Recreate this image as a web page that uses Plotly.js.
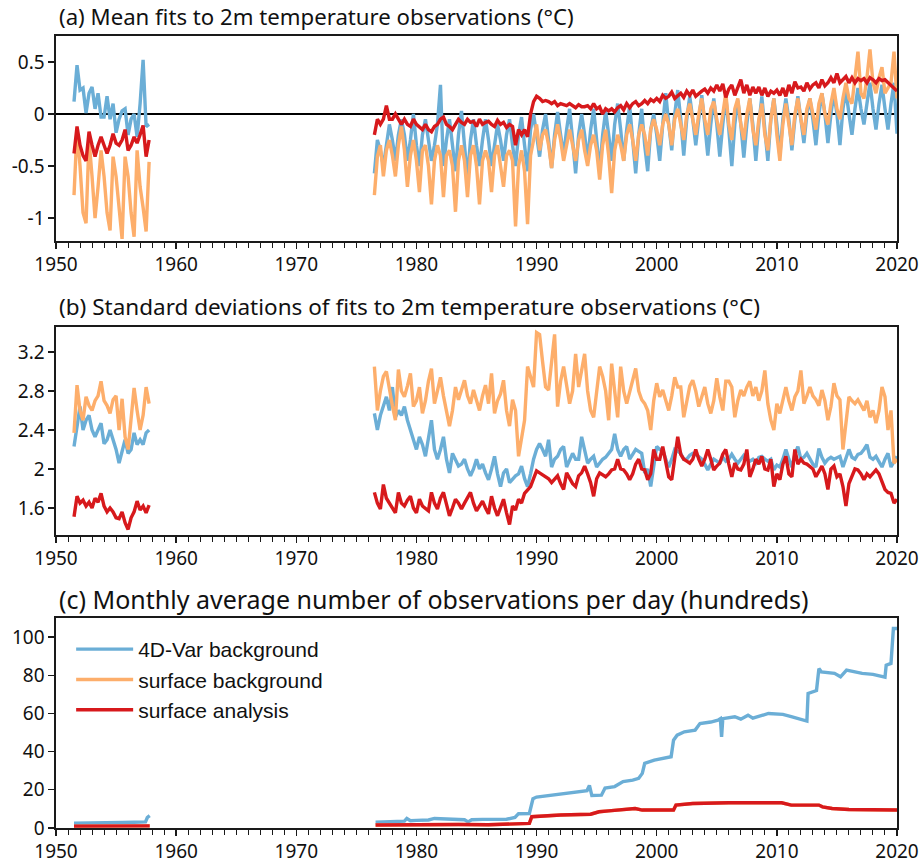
<!DOCTYPE html>
<html>
<head>
<meta charset="utf-8">
<script src="https://cdn.plot.ly/plotly-3.0.1.min.js"></script>
<style>
  html, body { margin: 0; padding: 0; background: #fff; }
  #chart { width: 919px; height: 863px; }
</style>
</head>
<body>
<div id="chart"></div>
<script>
// Fits of 2m temperature observations, sampled every quarter year.
// Two observing periods: 1951.5-1957.75 and 1976.5-2020.0, step 0.25 yr.
const EARLY_START = 1951.5;
const LATE_START = 1976.5;
const STEP = 0.25;

const seriesNames = ['4D-Var background', 'surface background', 'surface analysis'];
const seriesColors = ['#6baed6', '#fdae6b', '#d7191c'];

// ---- (a) mean fits (°C) ----
const meanFdvarEarly = [
  0.12, 0.47,
  0.23, 0.25, 0.01, 0.2,
  0.26, 0.05, 0.2, -0.03,
  -0.03, 0.17, -0.05, 0.1,
  -0.18, -0.05, 0.03, 0.05,
  -0.2, -0.05, 0.0, -0.22,
  0.1, 0.52, -0.12, -0.1
];
const meanSfcBgEarly = [
  -0.78, -0.15,
  -0.5, -0.95, -1.05, -0.25,
  -0.6, -1.0, -0.7, -0.35,
  -0.6, -0.95, -1.12, -0.41,
  -0.6, -0.95, -1.2, -0.41,
  -0.6, -0.95, -1.18, -0.35,
  -0.7, -0.9, -1.13, -0.46
];
const meanSfcAnEarly = [
  -0.38, -0.12,
  -0.3, -0.4, -0.45, -0.17,
  -0.3, -0.41, -0.3, -0.22,
  -0.3, -0.38, -0.3, -0.19,
  -0.28, -0.3, -0.25, -0.15,
  -0.35, -0.3, -0.22, -0.28,
  -0.2, -0.11, -0.41, -0.25
];
const meanFdvarLate = [
  -0.57, -0.25,
  -0.35, -0.5, -0.3, -0.1,
  -0.25, -0.45, -0.2, -0.05,
  -0.2, -0.45, -0.25, 0.0,
  -0.3, -0.5, -0.2, -0.05,
  -0.25, -0.45, -0.3, -0.1,
  0.28, -0.5, -0.25, -0.05,
  -0.3, -0.55, -0.2, 0.03,
  -0.3, -0.62, -0.25, -0.05,
  -0.3, -0.5, -0.25, -0.05,
  -0.25, -0.5, -0.3, -0.1,
  -0.25, -0.45, -0.2, -0.05,
  -0.3, -0.5, -0.2, -0.03,
  -0.3, -0.55, -0.15, 0.0,
  -0.2, -0.41, -0.15, 0.0,
  -0.25, -0.52, -0.2, 0.02,
  -0.2, -0.4, -0.15, 0.05,
  -0.25, -0.57, -0.2, 0.0,
  -0.2, -0.45, -0.15, 0.05,
  -0.25, -0.55, -0.2, 0.03,
  -0.2, -0.45, -0.1, 0.1,
  -0.15, -0.45, -0.15, 0.08,
  -0.25, -0.57, -0.2, 0.05,
  -0.3, -0.55, -0.15, 0.0,
  -0.2, -0.45, -0.1, 0.2,
  -0.1, -0.35, 0.0, 0.23,
  -0.05, -0.4, -0.05, 0.17,
  -0.05, -0.3, -0.05, 0.18,
  -0.1, -0.4, -0.1, 0.15,
  -0.1, -0.41, -0.1, 0.17,
  -0.15, -0.5, -0.1, 0.13,
  -0.1, -0.42, -0.1, 0.15,
  -0.1, -0.45, -0.1, 0.17,
  -0.15, -0.45, -0.05, 0.15,
  -0.1, -0.4, -0.05, 0.15,
  -0.05, -0.35, -0.05, 0.17,
  -0.05, -0.28, 0.0, 0.15,
  -0.05, -0.3, 0.0, 0.2,
  0.0, -0.28, 0.0, 0.2,
  0.0, -0.3, 0.05, 0.23,
  0.0, -0.2, 0.05, 0.25,
  0.05, -0.1, 0.1, 0.3,
  0.05, -0.15, 0.1, 0.28,
  0.05, -0.15, 0.1, 0.3,
  -0.19
];
const meanSfcBgLate = [
  -0.78, -0.41,
  -0.3, -0.6, -0.35, -0.25,
  -0.4, -0.6, -0.3, -0.12,
  -0.35, -0.7, -0.4, -0.25,
  -0.45, -0.75, -0.35, -0.3,
  -0.5, -0.87, -0.45, -0.3,
  -0.4, -0.8, -0.4, -0.35,
  -0.5, -0.94, -0.45, -0.3,
  -0.45, -0.8, -0.4, -0.3,
  -0.5, -0.87, -0.45, -0.35,
  -0.45, -0.75, -0.4, -0.3,
  -0.5, -0.7, -0.4, -0.35,
  -0.45, -1.08, -0.5, -0.35,
  -0.55, -1.06, -0.4, -0.25,
  -0.1, -0.35, -0.2, -0.15,
  -0.3, -0.52, -0.25, -0.1,
  -0.25, -0.45, -0.3, -0.15,
  -0.3, -0.45, -0.25, -0.15,
  -0.35, -0.5, -0.3, -0.2,
  -0.35, -0.63, -0.3, -0.15,
  -0.4, -0.76, -0.35, -0.2,
  -0.3, -0.45, -0.2, -0.1,
  -0.25, -0.45, -0.2, -0.1,
  -0.2, -0.4, -0.15, -0.05,
  -0.15, -0.3, -0.1, 0.0,
  -0.1, -0.3, -0.05, 0.05,
  -0.1, -0.25, 0.0, 0.1,
  -0.05, -0.2, 0.0, 0.15,
  -0.05, -0.2, 0.05, 0.12,
  -0.05, -0.2, 0.0, 0.2,
  -0.1, -0.25, 0.05, 0.15,
  -0.1, -0.25, 0.0, 0.15,
  -0.15, -0.3, -0.05, 0.1,
  -0.2, -0.35, -0.05, 0.15,
  -0.2, -0.45, -0.1, 0.1,
  -0.1, -0.3, 0.0, 0.15,
  -0.05, -0.2, 0.05, 0.15,
  0.0, -0.15, 0.1, 0.2,
  0.0, -0.1, 0.1, 0.25,
  0.05, -0.05, 0.15, 0.3,
  0.15, 0.1, 0.35, 0.6,
  0.2, 0.15, 0.35, 0.62,
  0.3, 0.2, 0.35, 0.45,
  0.2, 0.25, 0.3, 0.6,
  0.15
];
const meanSfcAnLate = [
  -0.2, -0.05,
  -0.1, -0.05, 0.08, -0.05,
  -0.05, 0.0, -0.05, -0.1,
  -0.05, -0.1, -0.12, -0.05,
  -0.1, -0.12, -0.15, -0.1,
  -0.15, -0.17, -0.12, -0.1,
  -0.05, -0.03, -0.1, -0.12,
  -0.15, -0.1, -0.05, -0.08,
  -0.1, -0.05, -0.08, -0.07,
  -0.12, -0.05, -0.1, -0.08,
  -0.07, -0.1, -0.12, -0.06,
  -0.1, -0.08, -0.13, -0.1,
  -0.12, -0.3, -0.15, -0.2,
  -0.15, -0.22, 0.0, 0.12,
  0.17, 0.15, 0.12, 0.13,
  0.12, 0.1, 0.12, 0.08,
  0.1, 0.09, 0.08, 0.1,
  0.08, 0.06, 0.09, 0.07,
  0.07, 0.08, 0.05, 0.1,
  0.05, 0.07, 0.0, 0.05,
  0.03, 0.05, 0.02, 0.06,
  0.08, 0.04, 0.1, 0.06,
  0.1, 0.12, 0.08, 0.1,
  0.13, 0.1, 0.14, 0.12,
  0.15, 0.12, 0.18, 0.15,
  0.17, 0.21, 0.15, 0.18,
  0.2, 0.16, 0.22, 0.18,
  0.23, 0.17, 0.2, 0.22,
  0.24, 0.2, 0.25, 0.22,
  0.28, 0.22, 0.29, 0.16,
  0.24, 0.28, 0.18, 0.26,
  0.33, 0.2, 0.28, 0.18,
  0.26, 0.2, 0.26, 0.18,
  0.25, 0.17, 0.22, 0.2,
  0.23, 0.18, 0.25, 0.17,
  0.28, 0.2, 0.31, 0.25,
  0.26, 0.22, 0.3, 0.24,
  0.28, 0.3, 0.25, 0.33,
  0.27, 0.3, 0.35, 0.3,
  0.39, 0.3, 0.33, 0.36,
  0.3, 0.35, 0.3, 0.34,
  0.32, 0.34, 0.3, 0.35,
  0.33, 0.3, 0.34, 0.32,
  0.33, 0.3, 0.28, 0.25,
  0.22
];

// ---- (b) standard deviations of fits (°C) ----
const sdFdvarEarly = [
  2.23, 2.45,
  2.64, 2.4, 2.5, 2.55,
  2.4, 2.33, 2.4, 2.47,
  2.26, 2.3, 2.4, 2.3,
  2.2, 2.06, 2.2, 2.3,
  2.16, 2.2, 2.37, 2.25,
  2.3, 2.25, 2.37, 2.4
];
const sdSfcBgEarly = [
  2.37, 2.86,
  2.6, 2.5, 2.74, 2.65,
  2.6, 2.7, 2.75, 2.9,
  2.7, 2.65, 2.57, 2.71,
  2.75, 2.4, 2.72, 2.33,
  2.2, 2.5, 2.83, 2.6,
  2.4, 2.55, 2.84, 2.67
];
const sdSfcAnEarly = [
  1.51, 1.72,
  1.65, 1.68, 1.62, 1.66,
  1.6, 1.7, 1.66, 1.75,
  1.62, 1.56, 1.6, 1.56,
  1.5, 1.49, 1.56, 1.45,
  1.38, 1.5, 1.56, 1.67,
  1.58, 1.62, 1.55, 1.63
];
const sdFdvarLate = [
  2.57, 2.4,
  2.55, 2.64, 2.74, 2.6,
  2.84, 2.53, 2.6, 2.55,
  2.64, 2.5, 2.4, 2.3,
  2.2, 2.33, 2.25, 2.13,
  2.3, 2.5, 2.2, 2.1,
  2.2, 2.33, 2.1, 1.96,
  2.16, 2.1, 2.03, 2.05,
  2.1, 2.0, 1.93, 2.0,
  2.1, 2.0, 2.05, 1.96,
  1.89, 2.0, 2.13, 1.95,
  1.82, 1.96, 2.0, 1.86,
  1.9, 1.93, 1.95, 2.03,
  1.9, 1.82, 1.95, 2.1,
  2.2, 2.26, 2.2, 2.13,
  2.3, 2.02, 2.1, 2.13,
  2.2, 2.23, 2.02, 2.1,
  2.16, 2.1, 2.1, 2.33,
  2.2, 2.06, 2.1, 2.13,
  2.02, 2.06, 2.1, 2.12,
  2.16, 2.2, 2.36, 2.2,
  2.13, 2.2, 2.23, 2.1,
  2.15, 2.2, 2.18, 2.16,
  1.96, 2.0, 1.82, 2.05,
  2.23, 2.2, 2.2, 2.1,
  2.02, 2.1, 2.2, 2.18,
  2.16, 2.1, 2.1, 2.14,
  2.16, 2.15, 2.13, 2.1,
  2.05, 1.99, 2.05, 2.1,
  2.08, 2.06, 2.12, 2.08,
  2.1, 2.15, 2.1, 2.06,
  2.1, 2.14, 2.1, 2.08,
  2.1, 2.06, 2.12, 2.13,
  2.1, 2.08, 2.1, 1.99,
  2.04, 2.02, 2.1, 2.2,
  2.1, 2.02, 2.15, 2.23,
  2.1, 2.12, 2.16, 2.1,
  2.05, 2.02, 2.21, 2.12,
  2.06, 2.1, 2.12, 2.1,
  2.12, 2.13, 2.02, 2.1,
  2.2, 2.12, 2.1, 2.15,
  2.16, 2.2, 2.25, 2.12,
  2.1, 2.13, 2.08, 2.02,
  2.1, 2.16, 2.02, 2.08,
  2.13
];
const sdSfcBgLate = [
  3.05, 2.6,
  2.8, 2.95, 3.0, 2.81,
  2.65, 2.5, 3.02, 2.8,
  2.74, 2.85, 2.98, 2.64,
  2.7, 2.84, 2.57, 2.7,
  2.9, 3.03, 2.67, 2.8,
  2.94, 2.75, 2.6, 2.44,
  2.6, 2.84, 2.71, 2.8,
  2.91, 2.75, 2.67, 2.81,
  2.7, 2.6, 2.75, 2.86,
  2.67, 2.98, 2.57, 2.7,
  2.77, 2.91, 2.6, 2.44,
  2.71, 2.6, 2.13, 2.3,
  2.5, 3.05, 2.95, 2.84,
  3.4, 3.38, 3.1, 2.84,
  2.81, 3.1, 3.38, 2.64,
  2.9, 3.05, 2.84, 2.67,
  2.8, 3.18, 2.84, 3.0,
  3.18, 2.8, 2.6, 2.53,
  2.8, 3.05, 2.95, 2.8,
  2.5, 3.08, 2.8, 2.53,
  3.05, 2.8, 2.67, 2.8,
  2.9, 3.03, 2.8, 2.71,
  2.67, 2.6, 2.4, 2.7,
  2.88, 2.74, 2.81, 2.7,
  2.6, 2.75, 2.94, 2.84,
  2.84, 2.53, 2.7, 2.85,
  2.91, 2.8, 2.64, 2.75,
  2.84, 2.67, 2.57, 2.7,
  2.93, 2.74, 2.6, 2.9,
  2.9, 2.84, 2.53, 2.7,
  2.81, 2.75, 2.84, 2.9,
  2.75, 2.84, 2.7, 2.8,
  3.01, 2.67, 2.5, 2.4,
  2.67, 2.57, 2.7, 2.84,
  2.7, 2.6, 2.74, 2.8,
  3.01, 2.67, 2.75, 2.84,
  2.75, 2.71, 2.65, 2.81,
  2.7, 2.5, 2.64, 2.88,
  2.75, 2.71, 2.2, 2.5,
  2.74, 2.7, 2.67, 2.71,
  2.65, 2.6, 2.7, 2.53,
  2.6, 2.47, 2.6, 2.84,
  2.74, 2.4, 2.6, 2.06,
  2.1
];
const sdSfcAnLate = [
  1.76, 1.65,
  1.59, 1.84, 1.7, 1.65,
  1.6, 1.55, 1.76, 1.65,
  1.62, 1.68, 1.72, 1.6,
  1.55, 1.69, 1.62, 1.6,
  1.57, 1.76, 1.65, 1.59,
  1.7, 1.76, 1.62, 1.52,
  1.6, 1.69, 1.65, 1.59,
  1.65, 1.7, 1.76, 1.65,
  1.57, 1.62, 1.67, 1.6,
  1.54, 1.72, 1.6, 1.52,
  1.6, 1.69, 1.55, 1.43,
  1.62, 1.58, 1.69, 1.65,
  1.75, 1.79, 1.82, 1.9,
  1.98, 1.96, 1.94, 1.92,
  1.9, 1.86, 1.9, 1.93,
  1.85, 1.79, 1.96, 1.9,
  1.85, 1.82, 1.93, 1.96,
  2.03, 1.95, 1.86, 1.72,
  1.9, 1.96, 1.94, 1.92,
  1.95, 1.99, 2.0, 2.1,
  2.0, 1.99, 1.95, 1.89,
  1.95, 2.05, 2.1, 2.0,
  1.99, 1.89, 1.95, 2.2,
  2.1, 2.1, 2.23, 2.05,
  1.92, 1.89, 2.1, 2.33,
  2.15, 2.1, 2.08, 2.06,
  2.1, 2.2, 2.1, 2.03,
  2.1, 2.2, 2.1, 1.99,
  2.03, 2.06, 2.15, 2.2,
  2.05, 1.92, 2.06, 2.0,
  1.99, 2.05, 2.2, 1.92,
  2.0, 2.1, 2.05, 2.13,
  2.0, 1.99, 2.1, 1.82,
  1.95, 1.89, 2.05, 2.13,
  1.95, 1.92, 2.2, 2.05,
  2.1, 2.06, 2.05, 2.03,
  2.0, 1.92, 1.98, 2.03,
  1.95, 1.79, 2.0, 2.03,
  1.92, 1.95, 1.82, 1.62,
  1.85, 1.92, 2.0, 1.99,
  1.95, 1.89, 1.95, 1.92,
  1.95, 1.99, 1.95, 1.86,
  1.79, 1.76, 1.75, 1.65,
  1.69
];

// ---- (c) observations per day (hundreds) ----
const countFdvarEarlyYears = [1951.5, 1952.5, 1953.5, 1954.5, 1955.5, 1956.5, 1957.3, 1957.45, 1957.6, 1957.8];
const countFdvarEarly      = [2.5, 2.5, 2.6, 2.8, 2.9, 3.0, 3.0, 3.2, 5.5, 6.5];
const countSfcEarlyYears   = [1951.5, 1954.5, 1957.8];
const countSfcEarly        = [1.0, 1.0, 1.1];
const countFdvarLateYears = [
  1976.6, 1977.5, 1978.5, 1979.0, 1979.2, 1979.5, 1980.0, 1981.0, 1981.5, 1982.5,
  1983.5, 1984.0, 1984.3, 1984.6, 1985.5, 1986.5, 1987.5, 1988.2, 1988.5, 1989.4,
  1989.7, 1990.0, 1991.0, 1992.0, 1992.8, 1994.2, 1994.4, 1994.6, 1995.4, 1995.7,
  1996.5, 1997.2, 1998.0, 1998.5, 1998.8, 1999.0, 1999.8, 2001.2, 2001.4, 2001.7,
  2002.3, 2003.2, 2003.6, 2004.5, 2005.1, 2005.3, 2005.4, 2005.5, 2006.5, 2007.0,
  2007.6, 2008.0, 2009.3, 2010.5, 2011.2, 2012.2, 2012.5, 2012.6, 2013.0, 2013.3,
  2013.5, 2013.7, 2014.8, 2015.3, 2015.8, 2017.1, 2018.0, 2018.8, 2019.0, 2019.1,
  2019.5, 2019.7, 2020.0
];
const countFdvarLate = [
  3.0, 3.2, 3.5, 3.6, 5.0, 3.8, 4.0, 4.2, 5.0, 4.6,
  4.5, 4.3, 3.2, 4.3, 4.5, 4.4, 4.6, 5.5, 7.5, 7.6,
  15.3, 16.2, 17.0, 18.0, 18.8, 19.6, 22.3, 17.0, 17.2, 20.9,
  21.7, 24.3, 25.1, 26.0, 28.6, 33.9, 35.6, 37.3, 46.0, 48.6,
  50.4, 51.3, 54.7, 55.5, 56.5, 57.3, 47.7, 57.3, 58.3, 57.0,
  59.1, 57.5, 60.0, 59.5, 58.3, 56.5, 56.0, 70.5, 71.3, 72.0,
  83.5, 81.8, 81.0, 79.2, 82.7, 81.0, 80.5, 79.2, 79.0, 85.3,
  86.2, 104.5, 104.5
];
const countSfcLateYears = [
  1976.6, 1980.0, 1983.5, 1986.0, 1989.4, 1989.6, 1992.0, 1994.5, 1995.2, 1996.0,
  1997.0, 1998.2, 1998.8, 2001.4, 2001.6, 2003.0, 2006.0, 2010.4, 2011.2, 2013.5,
  2013.8, 2014.6, 2016.0, 2020.0
];
const countSfcLate = [
  1.6, 1.9, 1.8, 1.7, 2.4, 5.9, 6.8, 7.2, 8.5, 9.0,
  9.4, 10.2, 9.4, 9.4, 12.0, 12.8, 13.2, 13.2, 12.0, 12.0,
  11.1, 10.2, 9.7, 9.4
];

const decades = [1950, 1960, 1970, 1980, 1990, 2000, 2010, 2020];

// ---- helpers ----
const quarterYears = (start, n) => Array.from({ length: n }, (_, i) => start + i * STEP);

// join the two observing periods with a gap between them
function twoPeriods(xe, ye, xl, yl) {
  return { x: [...xe, null, ...xl], y: [...ye, null, ...yl] };
}
function quarterly(early, late) {
  return twoPeriods(quarterYears(EARLY_START, early.length), early,
                    quarterYears(LATE_START, late.length), late);
}

const LINE_W = 3.4;
function line(d, k, xa, ya, showlegend) {
  return {
    type: 'scatter', mode: 'lines',
    x: d.x, y: d.y, xaxis: xa, yaxis: ya,
    name: seriesNames[k], showlegend: showlegend,
    line: { color: seriesColors[k], width: LINE_W },
    connectgaps: false, hoverinfo: 'skip'
  };
}

const traces = [
  // (a)
  line(quarterly(meanFdvarEarly, meanFdvarLate), 0, 'x', 'y', false),
  line(quarterly(meanSfcBgEarly, meanSfcBgLate), 1, 'x', 'y', false),
  line(quarterly(meanSfcAnEarly, meanSfcAnLate), 2, 'x', 'y', false),
  // (b)
  line(quarterly(sdFdvarEarly, sdFdvarLate), 0, 'x2', 'y2', false),
  line(quarterly(sdSfcBgEarly, sdSfcBgLate), 1, 'x2', 'y2', false),
  line(quarterly(sdSfcAnEarly, sdSfcAnLate), 2, 'x2', 'y2', false),
  // (c) surface background and analysis share the same observation count
  line(twoPeriods(countFdvarEarlyYears, countFdvarEarly, countFdvarLateYears, countFdvarLate), 0, 'x3', 'y3', true),
  line(twoPeriods(countSfcEarlyYears, countSfcEarly, countSfcLateYears, countSfcLate), 1, 'x3', 'y3', true),
  line(twoPeriods(countSfcEarlyYears, countSfcEarly, countSfcLateYears, countSfcLate), 2, 'x3', 'y3', true)
];

// ---- layout ----
const H = 863;
const py = px => 1 - px / H;   // pixel row -> paper y (no top/bottom margin)

const FRAME = '#1a1a1a';
const TICK_FONT = { family: 'Noto Sans, Open Sans, sans-serif', size: 19, color: '#111' };

function xAxis(anchor) {
  return {
    anchor: anchor, domain: [0, 1], range: [1950, 2020],
    tickmode: 'array', tickvals: decades, ticktext: decades.map(String),
    ticks: 'outside', ticklen: 6, tickwidth: 1.3, tickcolor: FRAME,
    minor: { tickmode: 'linear', tick0: 1950, dtick: 1, ticks: 'outside', ticklen: 5, tickwidth: 1, tickcolor: FRAME },
    showline: true, mirror: true, linecolor: FRAME, linewidth: 1.6,
    showgrid: false, zeroline: false, tickfont: TICK_FONT,
    ticklabeloverflow: 'allow', fixedrange: true
  };
}
function yAxis(anchor, dom, range, vals, text) {
  return {
    anchor: anchor, domain: dom, range: range,
    tickmode: 'array', tickvals: vals, ticktext: text,
    ticks: 'outside', ticklen: 6, tickwidth: 1.3, tickcolor: FRAME,
    showline: true, mirror: true, linecolor: FRAME, linewidth: 1.6,
    showgrid: false, zeroline: false, tickfont: TICK_FONT, fixedrange: true
  };
}

const meanTicks = [-1, -0.5, 0, 0.5];
const sdTicks = [1.6, 2, 2.4, 2.8, 3.2];
const countTicks = [0, 20, 40, 60, 80, 100];

const yA = yAxis('x', [py(241), py(36)], [-1.221, 0.75], meanTicks, ['-1', '-0.5', '0', '0.5']);
yA.zeroline = true; yA.zerolinecolor = '#000'; yA.zerolinewidth = 2;

const TITLE_FONT = { family: 'Noto Sans, Open Sans, sans-serif', size: 22, color: '#111' };
function panelTitle(text, yPx, size) {
  return {
    text: text, xref: 'paper', yref: 'paper', x: 0, y: py(yPx),
    xanchor: 'left', yanchor: 'middle', xshift: 1, showarrow: false,
    font: Object.assign({}, TITLE_FONT, { size: size })
  };
}

const layout = {
  width: 919, height: 863,
  margin: { l: 56, r: 22, t: 0, b: 0 },
  paper_bgcolor: '#fff', plot_bgcolor: '#fff',
  showlegend: true,
  legend: {
    x: 0.018, y: py(629), xanchor: 'left', yanchor: 'top',
    bgcolor: 'rgba(0,0,0,0)', borderwidth: 0,
    font: { family: 'Liberation Sans, Arial, sans-serif', size: 21, color: '#111' },
    itemwidth: 57, traceorder: 'normal'
  },
  xaxis: xAxis('y'),
  yaxis: yA,
  xaxis2: xAxis('y2'),
  yaxis2: yAxis('x2', [py(535), py(327)], [1.323, 3.456], sdTicks, sdTicks.map(String)),
  xaxis3: xAxis('y3'),
  yaxis3: yAxis('x3', [py(828), py(618)], [0, 110], countTicks, countTicks.map(String)),
  annotations: [
    panelTitle('(a) Mean fits to 2m temperature observations (°C)', 17, 22.2),
    panelTitle('(b) Standard deviations of fits to 2m temperature observations (°C)', 306, 22.5),
    panelTitle('(c) Monthly average number of observations per day (hundreds)', 599, 25)
  ]
};

Plotly.newPlot('chart', traces, layout, { displayModeBar: false, staticPlot: true });
</script>
</body>
</html>
